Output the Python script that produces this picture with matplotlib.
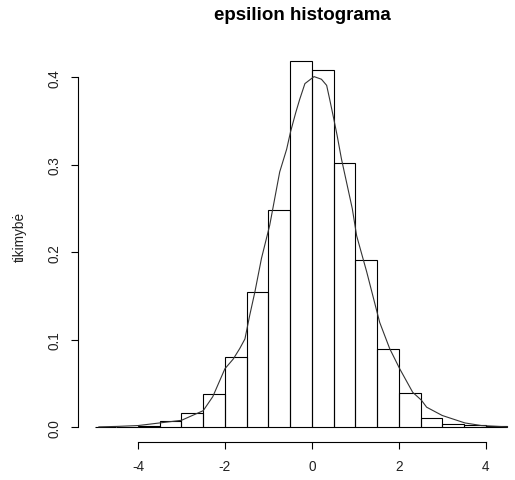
import matplotlib
matplotlib.use("Agg")
import matplotlib.pyplot as plt
import numpy as np

plt.rcParams['font.family'] = ['Liberation Sans', 'DejaVu Sans']

# histogram data (density), bins of width 0.5 from -5 to 4.5
bin_edges = [-5.0, -4.5, -4.0, -3.5, -3.0, -2.5, -2.0, -1.5, -1.0, -0.5, 0.0,
             0.5, 1.0, 1.5, 2.0, 2.5, 3.0, 3.5, 4.0, 4.5]
densities = [0.0005, 0.0008, 0.002, 0.0077, 0.0166, 0.038, 0.080, 0.1545, 0.249,
             0.419, 0.409, 0.302, 0.191, 0.089, 0.039, 0.0105, 0.004, 0.003, 0.001]

# kernel density curve points
curve_x = [-4.9, -4.5, -4.0, -3.5, -3.0, -2.5, -2.28, -2.0, -1.81, -1.66, -1.54,
           -1.43, -1.31, -1.16, -0.97, -0.74, -0.58, -0.49, -0.37, -0.28, -0.16,
           0.05, 0.22, 0.34, 0.41, 0.49, 0.58, 0.68, 0.93, 1.03, 1.26, 1.56, 1.79,
           2.02, 2.32, 2.52, 2.64, 3.0, 3.52, 3.9, 4.5]
curve_y = [0.0005, 0.001, 0.002, 0.005, 0.008, 0.019, 0.035, 0.067, 0.078, 0.090,
           0.101, 0.128, 0.155, 0.193, 0.231, 0.292, 0.318, 0.338, 0.360, 0.375,
           0.393, 0.401, 0.398, 0.391, 0.375, 0.356, 0.334, 0.307, 0.250, 0.219,
           0.178, 0.12, 0.09, 0.067, 0.04, 0.031, 0.023, 0.0135, 0.005, 0.002,
           0.0005]

x_ticks = [-4, -2, 0, 2, 4]
y_ticks = [0.0, 0.1, 0.2, 0.3, 0.4]
y_tick_labels = ["0.0", "0.1", "0.2", "0.3", "0.4"]
title = "epsilion histograma"
ylabel = "tikimybė"

W, H = 515, 481
fig = plt.figure(figsize=(W / 100, H / 100), dpi=100)
ax = fig.add_axes([78 / W, (H - 443) / H, 446 / W, (443 - 47) / H])

widths = np.diff(bin_edges)
ax.bar(bin_edges[:-1], densities, width=widths, align='edge', fill=False,
       edgecolor='black', linewidth=0.8)
ax.plot(curve_x, curve_y, color='#333333', linewidth=0.8)

ax.set_xlim(-5.38, 4.88)
ax.set_ylim(-0.0168, 0.436)

for s in ['top', 'right']:
    ax.spines[s].set_visible(False)
ax.spines['left'].set_bounds(0, 0.4)
ax.spines['bottom'].set_bounds(-4, 4)
for s in ['left', 'bottom']:
    ax.spines[s].set_linewidth(0.8)

ax.set_xticks(x_ticks)
ax.set_xticklabels([str(v) if v >= 0 else "-" + str(-v) for v in x_ticks])
ax.set_yticks(y_ticks)
ax.set_yticklabels(y_tick_labels, rotation=90, va='center')
ax.tick_params(direction='out', length=5, width=0.8, labelsize=9.8,
               colors='black', labelcolor='#222222')
ax.tick_params(axis='x', pad=7)
ax.tick_params(axis='y', pad=7)

ax.set_ylabel(ylabel, fontsize=9.8, color='#222222')
ax.yaxis.set_label_coords((27 - 78) / 446, (443 - 237) / 396)

fig.text(302 / W, 1 - 16 / H, title, ha='center', va='center',
         fontsize=13.5, fontweight='bold')

fig.savefig("out.png", dpi=100)
